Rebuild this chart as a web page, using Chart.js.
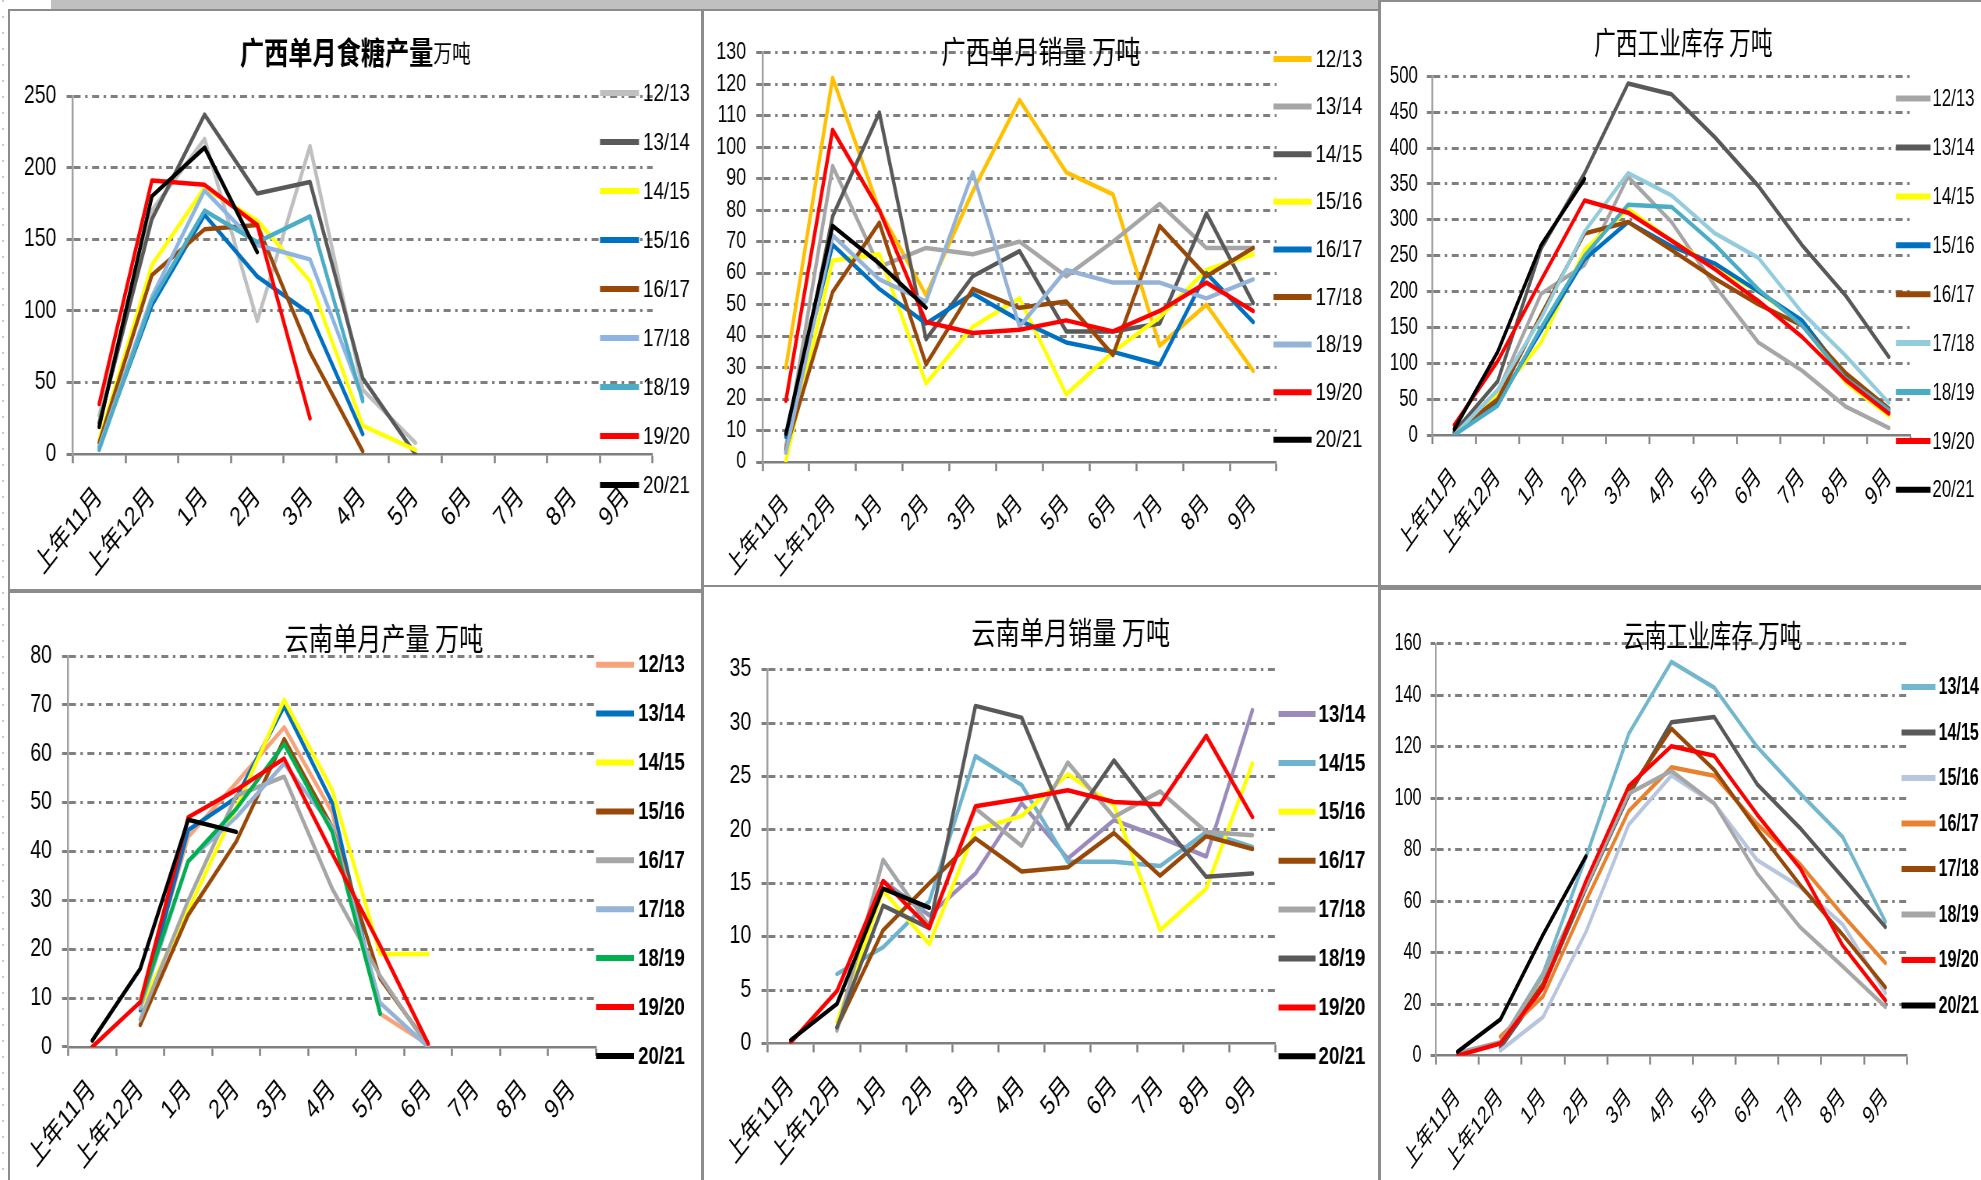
<!DOCTYPE html>
<html lang="zh-CN">
<head>
<meta charset="utf-8">
<title>广西、云南食糖产销存</title>
<script src="https://cdn.jsdelivr.net/npm/chart.js"></script>
<style>
  html, body { margin: 0; padding: 0; background: #fff; }
  body { position: relative; width: 1981px; height: 1180px; overflow: hidden; }
  .rule { position: absolute; background: #8c8c8c; }
  .panel { position: absolute; transform-origin: 0 0; }
  .panel canvas { position: absolute; left: 0; top: 0; }
</style>
</head>
<body>
<!-- sheet frame -->
<div class="rule" style="left:51px;top:0;width:1327px;height:9px;background:#c0c0c0"></div>
<div class="rule" style="left:8px;top:8.5px;width:1372px;height:2.5px"></div>
<div class="rule" style="left:8px;top:9px;width:2px;height:1171px"></div>
<div class="rule" style="left:701px;top:9px;width:2.5px;height:1171px"></div>
<div class="rule" style="left:1378px;top:0;width:2.5px;height:1180px"></div>
<div class="rule" style="left:8px;top:589px;width:695px;height:4px"></div>
<div class="rule" style="left:701px;top:584.5px;width:679px;height:2.5px"></div>
<div class="rule" style="left:1378px;top:585px;width:603px;height:5px"></div>
<div class="rule" style="left:1380px;top:0;width:601px;height:2px"></div>
<div style="position:absolute;left:2px;top:0;width:2px;height:1180px;background:repeating-linear-gradient(to bottom,#c8c8c8 0 2px,transparent 2px 16px)"></div>

<script>
// ---- categories and series names ----
const months = ['上年11月', '上年12月', '1月', '2月', '3月', '4月', '5月', '6月', '7月', '8月', '9月'];
const seasons9 = ['12/13', '13/14', '14/15', '15/16', '16/17', '17/18', '18/19', '19/20', '20/21'];
const seasons8 = ['13/14', '14/15', '15/16', '16/17', '17/18', '18/19', '19/20', '20/21'];

// ---- 广西单月食糖产量（万吨），rows follow seasons9 ----
const gxOutput = [
  [27, 170, 220, 93, 215, 45, 8, null, null, null, null],
  [22, 164, 237, 182, 190, 53, 0, null, null, null, null],
  [10, 132, 186, 163, 121, 20, 3, null, null, null, null],
  [5, 104, 167, 124, 98, 14, null, null, null, null, null],
  [8, 125, 157, 160, 71, 2, null, null, null, null, null],
  [5, 110, 184, 146, 136, 39, null, null, null, null, null],
  [3, 107, 170, 148, 166, 37, null, null, null, null, null],
  [35, 191, 188, 160, 25, null, null, null, null, null, null],
  [19, 180, 214, 141, null, null, null, null, null, null, null]
];

// ---- 广西单月销量（万吨），rows follow seasons9 ----
const gxSales = [
  [30, 122, 80, 53, 86, 115, 92, 85, 37, 50, 29],
  [5, 94, 62, 68, 66, 70, 59, 70, 82, 68, 68],
  [3, 78, 111, 39, 59, 67, 41.5, 41.5, 44, 79, 50.5],
  [0.5, 64, 66, 25, 43, 52, 21.5, 35, 46, 61, 66],
  [8, 69, 55, 44, 53.5, 45, 38, 35, 31, 60, 44.5],
  [4, 54, 76, 31, 55, 49, 51, 34, 75, 59, 68],
  [3, 72, 58, 51, 92, 43, 61, 57, 57, 52, 58],
  [19.5, 105.5, 80, 44.5, 41, 42, 45, 41.5, 48, 57, 48],
  [9, 75, 63, 49, null, null, null, null, null, null, null]
];

// ---- 广西工业库存（万吨），rows follow seasons9 ----
const gxStock = [
  [3, 60, 197, 237, 360, 297, 208, 129, 90, 40, 10],
  [4, 75, 260, 365, 490, 475, 415, 347, 265, 195, 109],
  [0.5, 55, 129, 258, 315, 271, 234, 200, 155, 74, 27],
  [0, 45, 145, 245, 297, 263, 239, 200, 160, 82, 32],
  [3, 50, 168, 281, 297, 258, 218, 182, 153, 87, 37],
  [0, 63, 163, 284, 365, 334, 281, 247, 171, 111, 45],
  [0, 41, 150, 250, 321, 318, 265, 203, 153, 79, 35],
  [14, 103, 216, 327, 310, 271, 231, 187, 137, 77, 30],
  [8, 116, 265, 357, null, null, null, null, null, null, null]
];

// ---- 云南单月产量（万吨），rows follow seasons9 ----
const ynOutput = [
  [null, 8.7, 43, 54, 65.4, 48, 6.8, 0.5, null, null, null],
  [null, 7.5, 44.4, 51, 69.7, 50, 6.8, null, null, null, null],
  [null, 8, 28, 49, 71, 52.6, 19, 19, null, null, null],
  [null, 4.5, 27, 42, 63, 45, 14, 0.4, null, null, null],
  [null, 5.6, 30, 51.4, 55.3, 32.4, 14.5, 0, null, null, null],
  [null, 8, 38, 47, 58, 45, 9, 0, null, null, null],
  [null, 9, 38, 48.7, 62, 44, 6.8, null, null, null, null],
  [0, 9.2, 47, 52.6, 59, 39.6, 20.7, 0.7, null, null, null],
  [1.3, 16, 46.5, 44, null, null, null, null, null, null, null]
];

// ---- 云南单月销量（万吨），rows follow seasons8 ----
const ynSales = [
  [null, null, 15.2, 12, 15.9, 22.5, 17.3, 20.9, 19.3, 17.5, 31.2],
  [null, 6.5, 9, 13.3, 26.9, 24.2, 17, 17, 16.6, 19.8, 18.4],
  [null, 2, 14.3, 9.3, 20, 21.3, 25.2, 22.3, 10.6, 14.5, 26.2],
  [null, 1.5, 10.6, 15, 19.2, 16.1, 16.5, 19.7, 15.7, 19.4, 18.2],
  [null, 1.2, 17.2, 11, 22, 18.5, 26.3, 21.2, 23.6, 19.8, 19.5],
  [null, 1.5, 12.9, 10.8, 31.6, 30.5, 20.2, 26.5, 20.9, 15.6, 15.9],
  [0.1, 4.9, 15.2, 10.8, 22.2, 22.9, 23.7, 22.6, 22.4, 28.8, 21.2],
  [0.3, 3.7, 14.5, 12.7, null, null, null, null, null, null, null]
];

// ---- 云南工业库存（万吨），rows follow seasons8 ----
const ynStock = [
  [null, 5, 32, 77, 125, 153, 143, 120, 102, 85, 52],
  [null, 3, 26.5, 65, 101, 129.5, 131.6, 105.5, 88.5, 69.3, 50],
  [null, 2, 15, 48, 89.7, 108.8, 98, 76, 65.6, 51, 24.3],
  [null, 7.4, 23, 60, 95, 112, 108.7, 90, 74.5, 54.6, 36],
  [null, 4.4, 28, 66, 102.5, 127, 111, 88, 66.4, 47, 26.5],
  [1, 5.2, 31, 65.6, 101.8, 110.6, 98, 70.8, 50, 34.7, 18.9],
  [0, 4.7, 26.5, 67.8, 104.7, 120.2, 116.5, 93.7, 73, 42.8, 21.4],
  [1.5, 14, 47, 77.4, null, null, null, null, null, null, null]
];

// ---- series colours ----
const gxOutputColors = ['#BFBFBF', '#595959', '#FFFF00', '#0070C0', '#984807', '#8EB4E3', '#4BACC6', '#FF0000', '#000000'];
const gxSalesColors  = ['#FFC000', '#A6A6A6', '#595959', '#FFFF00', '#0070C0', '#984807', '#95B3D7', '#FF0000', '#000000'];
const gxStockColors  = ['#A6A6A6', '#595959', '#FFFF00', '#0070C0', '#984807', '#93CDDD', '#4BACC6', '#FF0000', '#000000'];
const ynOutputColors = ['#F7A47C', '#0070C0', '#FFFF00', '#984807', '#A6A6A6', '#95B3D7', '#00B050', '#FF0000', '#000000'];
const ynSalesColors  = ['#9B8BBD', '#6FB3CF', '#FFFF00', '#984807', '#A6A6A6', '#595959', '#FF0000', '#000000'];
const ynStockColors  = ['#72B7CD', '#595959', '#B8C5DF', '#E9822F', '#984807', '#A6A6A6', '#FF0000', '#000000'];

const FONT = "'Liberation Sans', 'Noto Sans CJK SC', sans-serif";
const CJK = "'Noto Sans CJK SC', sans-serif";
const GRID = '#7f7f7f';

// Each panel is drawn on a wide canvas and squeezed horizontally (scaleX),
// which gives the condensed lettering of the sheet.
function drawPanel(p) {
  const [bl, bt, br, bb] = p.box;
  const [al, at, ar, ab] = p.area;
  const iw = Math.round((br - bl) / p.sx);
  const ih = Math.round(bb - bt);
  const ix = fx => (fx - bl) / p.sx;
  const iy = fy => fy - bt;

  const wrap = document.createElement('div');
  wrap.className = 'panel';
  Object.assign(wrap.style, {
    left: bl + 'px', top: bt + 'px', width: iw + 'px', height: ih + 'px',
    transform: 'scaleX(' + p.sx + ')'
  });
  const canvas = document.createElement('canvas');
  canvas.width = iw; canvas.height = ih;
  canvas.style.width = iw + 'px'; canvas.style.height = ih + 'px';
  wrap.appendChild(canvas);
  document.body.appendChild(wrap);

  const yWidth = ix(al);
  const padRight = iw - ix(ar);
  const padTop = iy(at);
  const xHeight = ih - iy(ab);
  const dash = [7, 4.5, 2.5, 4.5].map(v => v / p.sx);

  const n = p.values.length;
  const datasets = p.values.map((vals, i) => ({
    label: p.seasons[i],
    data: vals,
    borderColor: p.colors[i],
    backgroundColor: p.colors[i],
    borderWidth: 4.5,
    pointRadius: 0,
    pointHoverRadius: 0,
    tension: 0,
    fill: false,
    borderJoinStyle: 'round',
    borderCapStyle: 'round',
    order: n - i
  }));

  // title and the season key on the right
  const decor = {
    id: 'decor_' + p.id,
    afterDraw(chart) {
      const ctx = chart.ctx;
      ctx.save();
      ctx.fillStyle = '#000';
      ctx.textBaseline = 'middle';
      ctx.textAlign = 'left';
      const widths = p.title.map(t => { ctx.font = t.font; return ctx.measureText(t.text).width; });
      let x = ix(p.titleAt[0]) - widths.reduce((a, b) => a + b, 0) / 2;
      p.title.forEach((t, k) => {
        ctx.font = t.font;
        ctx.fillText(t.text, x, iy(p.titleAt[1]));
        x += widths[k];
      });
      const L = p.legend;
      ctx.font = L.font;
      ctx.lineWidth = 6;
      ctx.lineCap = 'butt';
      chart.data.datasets.forEach((ds, i) => {
        const y = iy(L.y0 + i * L.gap);
        ctx.strokeStyle = ds.borderColor;
        ctx.beginPath();
        ctx.moveTo(ix(L.x0), y);
        ctx.lineTo(ix(L.x1), y);
        ctx.stroke();
        ctx.fillText(ds.label, ix(L.tx), y + 1);
      });
      ctx.restore();
    }
  };

  new Chart(canvas, {
    type: 'line',
    data: { labels: months, datasets },
    options: {
      responsive: false,
      animation: false,
      devicePixelRatio: 1,
      events: [],
      layout: { padding: { left: 0, top: padTop, right: padRight, bottom: 0 } },
      plugins: { legend: { display: false }, tooltip: { enabled: false }, title: { display: false } },
      scales: {
        x: {
          offset: true,
          grid: {
            display: true, offset: true, drawOnChartArea: false, drawTicks: true,
            tickLength: 9, tickWidth: 2.5, tickColor: GRID, color: GRID
          },
          border: { display: true, color: GRID, width: 2.5 },
          ticks: {
            autoSkip: false, minRotation: 45, maxRotation: 45, padding: 18,
            color: '#000', font: { family: FONT, size: p.fontSize + 2 }
          },
          afterFit(s) { s.height = xHeight; }
        },
        y: {
          min: 0,
          max: p.yMax,
          ticks: { stepSize: p.yStep, padding: 13, color: '#000', font: { family: FONT, size: p.fontSize } },
          grid: {
            color: c => (c.tick && c.tick.value === 0) ? 'rgba(0,0,0,0)' : GRID,
            lineWidth: 3, tickLength: 8, tickWidth: 3, tickColor: GRID
          },
          border: { display: true, color: '#a0a0a0', width: 2.5, dash },
          afterFit(s) { s.width = yWidth; }
        }
      }
    },
    plugins: [decor]
  });
}

const panels = [
  {
    id: 'gxOutput', sx: 0.78, box: [10, 11, 701, 589], area: [72.8, 96, 652.6, 454.2],
    yMax: 250, yStep: 50, fontSize: 25,
    values: gxOutput, seasons: seasons9, colors: gxOutputColors,
    title: [{ text: '广西单月食糖产量', font: 'bold 31px ' + CJK }, { text: '万吨', font: '24px ' + CJK }],
    titleAt: [355.3, 52.7],
    legend: { y0: 93, gap: 49, x0: 600, x1: 639, tx: 643, font: '24px ' + FONT }
  },
  {
    id: 'gxSales', sx: 0.78, box: [703.5, 11, 1378, 584.5], area: [762, 52.7, 1276, 462.1],
    yMax: 130, yStep: 10, fontSize: 23,
    values: gxSales, seasons: seasons9, colors: gxSalesColors,
    title: [{ text: '广西单月销量 万吨', font: '31px ' + CJK }],
    titleAt: [1040.5, 50.8],
    legend: { y0: 59, gap: 47.6, x0: 1273, x1: 1311, tx: 1315, font: '24px ' + FONT }
  },
  {
    id: 'gxStock', sx: 0.70, box: [1380.5, 2, 1981, 585], area: [1432, 76.4, 1910, 435],
    yMax: 500, yStep: 50, fontSize: 24,
    values: gxStock, seasons: seasons9, colors: gxStockColors,
    title: [{ text: '广西工业库存 万吨', font: '31px ' + CJK }],
    titleAt: [1682.8, 42.1],
    legend: { y0: 98.6, gap: 48.9, x0: 1895.5, x1: 1930, tx: 1932, font: '24px ' + FONT }
  },
  {
    id: 'ynOutput', sx: 0.78, box: [10, 593, 701, 1180], area: [68.3, 656, 596, 1046.9],
    yMax: 80, yStep: 10, fontSize: 25,
    values: ynOutput, seasons: seasons9, colors: ynOutputColors,
    title: [{ text: '云南单月产量 万吨', font: '31px ' + CJK }],
    titleAt: [383.9, 638],
    legend: { y0: 664.7, gap: 48.9, x0: 596, x1: 634, tx: 638, font: 'bold 24px ' + FONT }
  },
  {
    id: 'ynSales', sx: 0.78, box: [703.5, 587, 1378, 1180], area: [767.2, 669.6, 1275, 1043.4],
    yMax: 35, yStep: 5, fontSize: 25,
    values: ynSales, seasons: seasons8, colors: ynSalesColors,
    title: [{ text: '云南单月销量 万吨', font: '31px ' + CJK }],
    titleAt: [1070.2, 632.4],
    legend: { y0: 714, gap: 48.9, x0: 1278, x1: 1315, tx: 1318, font: 'bold 24px ' + FONT }
  },
  {
    id: 'ynStock', sx: 0.70, box: [1380.5, 590, 1981, 1180], area: [1435.6, 643.8, 1906.3, 1055.6],
    yMax: 160, yStep: 20, fontSize: 23,
    values: ynStock, seasons: seasons8, colors: ynStockColors,
    title: [{ text: '云南工业库存 万吨', font: '31px ' + CJK }],
    titleAt: [1711.6, 635],
    legend: { y0: 687, gap: 45.5, x0: 1901, x1: 1935, tx: 1938, font: 'bold 23px ' + FONT }
  }
];

panels.forEach(drawPanel);
</script>
</body>
</html>
